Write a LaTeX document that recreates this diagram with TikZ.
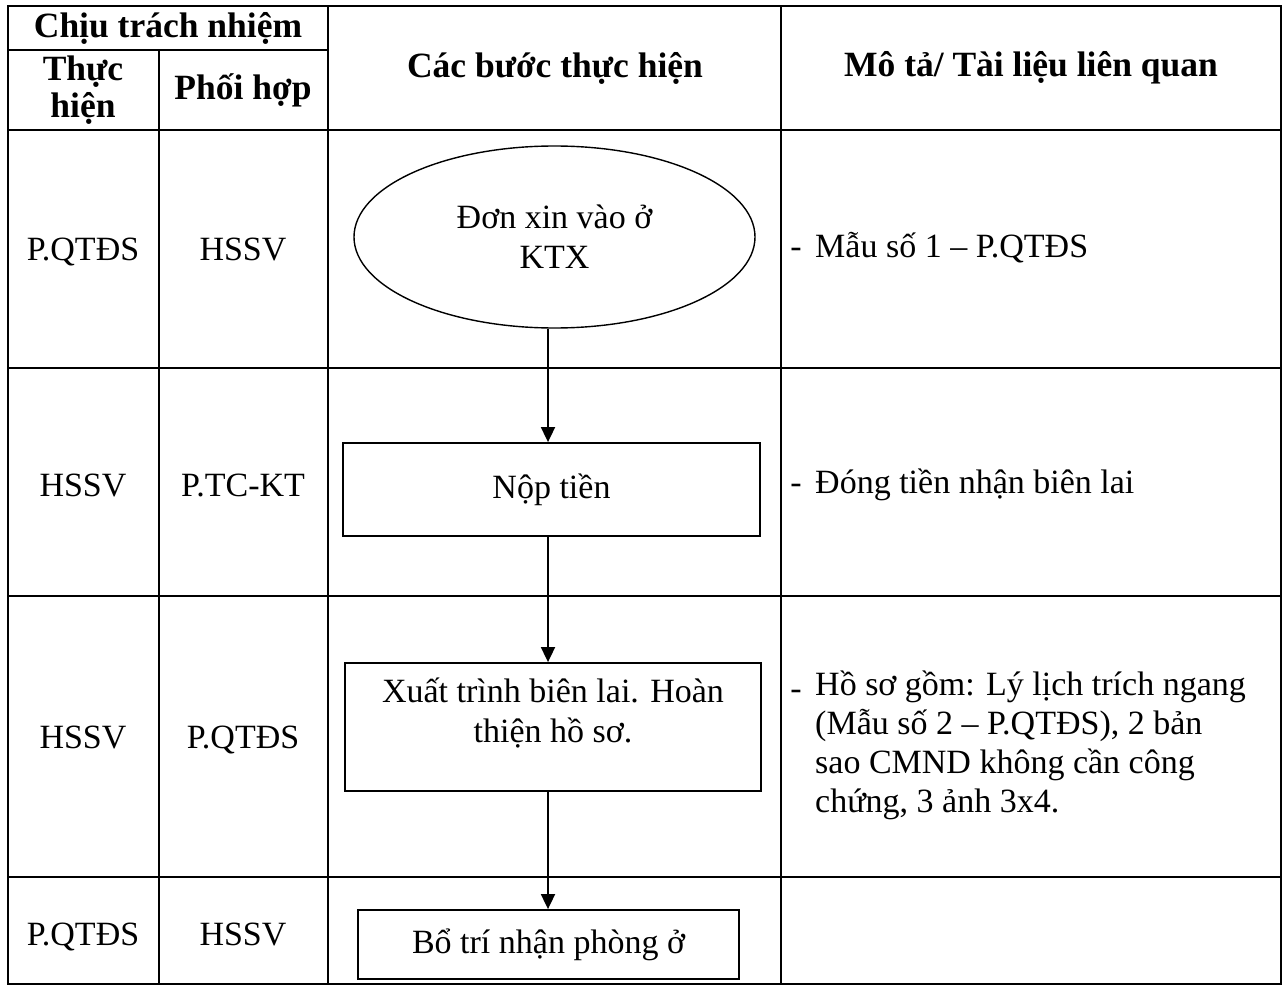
\documentclass[tikz,border=0pt]{standalone}
\usepackage{fontspec}
\setmainfont{Liberation Serif}
\usetikzlibrary{shapes.geometric,arrows.meta}
\begin{document}
\begin{tikzpicture}[x=1pt,y=-1pt,
  grid/.style={line width=2.6pt},
  stepbox/.style={draw, line width=1.8pt, rectangle, inner sep=0pt},
  oval/.style={draw, ellipse, line width=1.4pt, inner sep=0pt},
  txt/.style={font=\fontsize{34}{40}\selectfont, align=center, inner sep=0pt},
  dtxt/.style={font=\fontsize{34}{39}\selectfont, align=left, inner sep=0pt},
  hd/.style={font=\fontsize{35.5}{37}\selectfont\bfseries, align=center, inner sep=0pt},
  arr/.style={line width=1.8pt, -{Triangle[length=15pt,width=14pt]}}]
\useasboundingbox (0,0) rectangle (1285,987);
% table grid
\draw[grid] (8,6) rectangle (1281,984);
\draw[grid] (8,50) -- (328,50);
\draw[grid] (8,130) -- (1281,130);
\draw[grid] (8,368) -- (1281,368);
\draw[grid] (8,596) -- (1281,596);
\draw[grid] (8,877) -- (1281,877);
\draw[grid] (159,50) -- (159,984);
\draw[grid] (328,6) -- (328,984);
\draw[grid] (781,6) -- (781,984);
% headers
\node[hd] (h1) at (168,28) {Chịu trách nhiệm};
\node[hd] (h2) at (83,90) {Thực\\hiện};
\node[hd] (h3) at (243,90) {Phối hợp};
\node[hd] (h4) at (555,68) {Các bước thực hiện};
\node[hd] (h5) at (1031,68) {Mô tả/ Tài liệu liên quan};
% responsibility cells
\node[txt, anchor=base] (r1a) at (83,261) {P.QTĐS};
\node[txt, anchor=base] (r1b) at (243,261) {HSSV};
\node[txt, anchor=base] (r2a) at (83,496) {HSSV};
\node[txt, anchor=base] (r2b) at (243,496) {P.TC-KT};
\node[txt, anchor=base] (r3a) at (83,748) {HSSV};
\node[txt, anchor=base] (r3b) at (243,748) {P.QTĐS};
\node[txt, anchor=base] (r4a) at (83,945) {P.QTĐS};
\node[txt, anchor=base] (r4b) at (243,945) {HSSV};
% steps
\node[oval, minimum width=401pt, minimum height=182pt, txt] (e1) at (554.5,237) {Đơn xin vào ở\\KTX};
\node[stepbox, minimum width=417pt, minimum height=93pt, txt] (b1) at (551.5,489.5) {Nộp tiền};
\node[stepbox, minimum width=416pt, minimum height=128pt] (b2) at (553,727) {};
\node[txt] (b2t) at (553,713) {Xuất trình biên lai. Hoàn\\thiện hồ sơ.};
\node[stepbox, minimum width=381pt, minimum height=69pt, txt] (b3) at (548.5,944.5) {Bổ trí nhận phòng ở};
\coordinate (ax) at (548,0);
\draw[arr] (ax |- e1.south) -- (ax |- b1.north);
\draw[arr] (ax |- b1.south) -- (ax |- b2.north);
\draw[arr] (ax |- b2.south) -- (ax |- b3.north);
% descriptions
\node[txt, anchor=base] (m1) at (796,258) {-};
\node[dtxt, anchor=base west] (d1) at (815,258) {Mẫu số 1 – P.QTĐS};
\node[txt, anchor=base] (m2) at (796,493) {-};
\node[dtxt, anchor=base west] (d2) at (815,493) {Đóng tiền nhận biên lai};
\node[txt, anchor=base] (m3) at (796,699) {-};
\node[dtxt, anchor=north west] (d3) at (815,671) {Hồ sơ gồm: Lý lịch trích ngang\\(Mẫu số 2 – P.QTĐS), 2 bản\\sao CMND không cần công\\chứng, 3 ảnh 3x4.};
\end{tikzpicture}
\end{document}
